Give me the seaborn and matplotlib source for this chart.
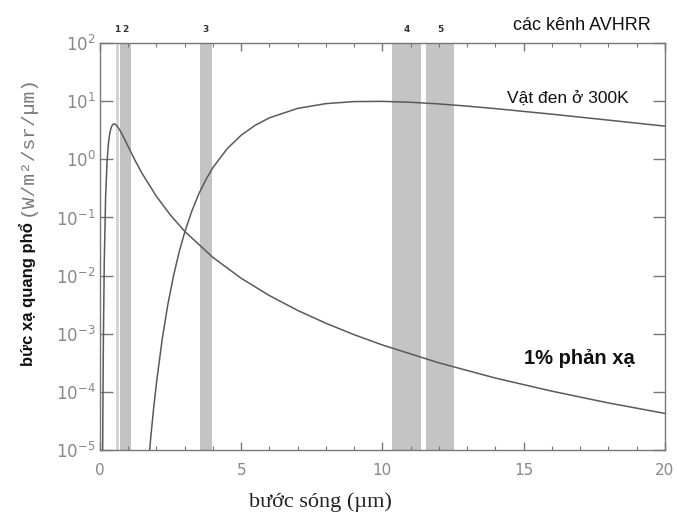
import matplotlib
matplotlib.use("Agg")
import matplotlib.pyplot as plt
import seaborn as sns
import pandas as pd

# Wavelength grid (µm) and radiance (W/m²/sr/µm) for the 300 K blackbody curve
bb_wavelength = [1.75, 1.8, 1.9, 2.0, 2.2, 2.4, 2.6, 2.8, 3.0, 3.25, 3.5, 3.75,
                 4.0, 4.5, 5.0, 5.5, 6.0, 7.0, 8.0, 9.0, 10.0, 11.0, 12.0,
                 13.0, 14.0, 16.0, 18.0, 20.0]
bb_radiance = [9.0e-6, 1.70e-5, 5.26e-5, 1.43e-4, 7.89e-4, 3.14e-3, 9.73e-3,
               0.0252, 0.0557, 0.128, 0.255, 0.449, 0.722, 1.515, 2.60, 3.86,
               5.17, 7.51, 9.07, 9.83, 9.92, 9.57, 8.96, 8.22, 7.44, 5.97,
               4.72, 3.72]

# 1% reflected sunlight curve
refl_wavelength = [0.09, 0.1, 0.12, 0.15, 0.2, 0.25, 0.3, 0.35, 0.4, 0.45, 0.5,
                   0.55, 0.6, 0.7, 0.8, 1.0, 1.25, 1.5, 2.0, 2.5, 3.0, 4.0,
                   5.0, 6.0, 7.0, 8.0, 9.0, 10.0, 12.0, 14.0, 16.0, 18.0, 20.0]
refl_radiance = [3.3e-6, 3.0e-5, 7.6e-4, 0.0156, 0.235, 0.906, 1.90, 2.87,
                 3.57, 3.96, 4.07, 3.99, 3.78, 3.19, 2.60, 1.65, 0.94, 0.562,
                 0.2295, 0.109, 0.0577, 0.0205, 0.00899, 0.00453, 0.00252,
                 0.001515, 9.63e-4, 6.41e-4, 3.16e-4, 1.73e-4, 1.03e-4,
                 6.46e-5, 4.27e-5]

# AVHRR channel bands (µm)
channel_labels = ["1", "2", "3", "4", "5"]
channel_lo = [0.55, 0.72, 3.55, 10.35, 11.55]
channel_hi = [0.68, 1.10, 3.95, 11.35, 12.55]

x_ticks = [0, 5, 10, 15, 20]
y_ticks = [1e-5, 1e-4, 1e-3, 1e-2, 1e-1, 1e0, 1e1, 1e2]

sns.set_style("ticks")
plt.rcParams["font.family"] = ["DejaVu Sans"]

df = pd.concat([
    pd.DataFrame({"wl": bb_wavelength, "L": bb_radiance, "curve": "bb"}),
    pd.DataFrame({"wl": refl_wavelength, "L": refl_radiance, "curve": "refl"}),
])

fig = plt.figure(figsize=(6.77, 5.12), dpi=100)
ax = fig.add_axes([0.1477, 0.121, 0.8343, 0.795])

band_colors = ["#d4d4d4", "#c2c2c2", "#c4c4c4", "#c4c4c4", "#c4c4c4"]
for lo, hi, c in zip(channel_lo, channel_hi, band_colors):
    ax.axvspan(lo, hi, color=c, lw=0, zorder=0)

sns.lineplot(data=df, x="wl", y="L", units="curve", estimator=None,
             color="#5a5a5a", lw=1.1, sort=False, ax=ax, zorder=3)

ax.set_yscale("log")
ax.set_xlim(0, 20)
ax.set_ylim(1e-5, 1e2)
ax.set_xticks(x_ticks)
ax.set_xticklabels([str(t) for t in x_ticks])
ax.set_xticks(range(0, 21), minor=True)
ax.yaxis.set_major_locator(matplotlib.ticker.FixedLocator(y_ticks))
ax.yaxis.set_major_formatter(matplotlib.ticker.LogFormatterSciNotation())
ax.yaxis.set_minor_locator(matplotlib.ticker.NullLocator())
ax.xaxis.label.set_visible(False)
ax.yaxis.label.set_visible(False)

for s in ax.spines.values():
    s.set_color("#777777")
    s.set_linewidth(1.0)
ax.tick_params(axis="both", which="both", direction="in", top=True,
               right=True, colors="#777777", labelcolor="#888888")
ax.tick_params(axis="y", which="major", length=9, width=1, labelsize=12,
               pad=3)
ax.tick_params(axis="x", which="major", length=6, width=1, labelsize=11,
               pad=9)
ax.tick_params(axis="x", which="minor", length=3, width=0.8)

# channel numbers above the frame
for lab, lo, hi in zip(channel_labels, channel_lo, channel_hi):
    ax.text((lo + hi) / 2, 1.022, lab, transform=ax.get_xaxis_transform(),
            ha="center", va="bottom", fontsize=6.5, fontweight="bold",
            color="#333333")

sans = ["Liberation Sans", "DejaVu Sans"]
fig.text(0.860, 0.951, "các kênh AVHRR", ha="center", va="center",
         fontsize=13, family=sans, color="#111111")
ax.text(14.4, 10.8, "Vật đen ở 300K", ha="left", va="center",
        fontsize=12.5, family=sans, color="#111111")
ax.text(15.0, 3.8e-4, "1% phản xạ", ha="left", va="center",
        fontsize=14.5, fontweight="bold", family=sans, color="#111111")

# axis titles
fig.text(0.474, 0.02, "bước sóng (µm)", ha="center", va="center",
         fontsize=16, family=["Liberation Serif", "DejaVu Serif"],
         color="#222222")
fig.text(0.040, 0.286, "bức xạ quang phổ", rotation=90, ha="center",
         va="bottom", fontsize=12, fontweight="bold", family=sans,
         color="#111111")
fig.text(0.040, 0.578, "(W/m²/sr/µm)", rotation=90, ha="center",
         va="bottom", fontsize=14, family=["Liberation Mono", "DejaVu Sans Mono"],
         color="#777777")

fig.savefig("out.png", dpi=100)
